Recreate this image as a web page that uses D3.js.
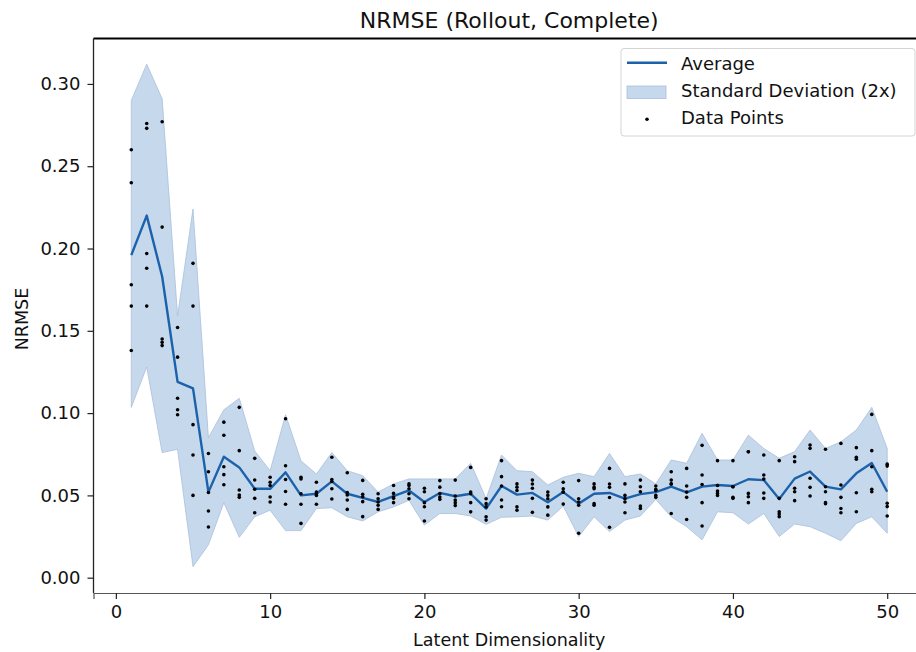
<!DOCTYPE html>
<html>
<head>
<meta charset="utf-8">
<script src="https://cdn.jsdelivr.net/npm/d3@7"></script>
<style>
  body { margin: 0; background: #fff; }
  svg { font-family: "DejaVu Sans", sans-serif; }
</style>
</head>
<body>
<svg id="chart-svg" width="916" height="652"></svg>
<script>
// latent dimensionality 1..50
const dims = d3.range(1, 51);

const average = [
  0.196, 0.220, 0.183, 0.119, 0.115, 0.052, 0.0735, 0.067, 0.054, 0.054,
  0.064, 0.050, 0.051, 0.0585, 0.051, 0.0485, 0.046, 0.0495, 0.053, 0.046,
  0.0515, 0.0495, 0.051, 0.042, 0.0557, 0.0505, 0.0515, 0.0458, 0.052, 0.045,
  0.051, 0.0515, 0.048, 0.0508, 0.052, 0.0553, 0.0518, 0.0553, 0.0563, 0.0557,
  0.0598, 0.0593, 0.0478, 0.0602, 0.0645, 0.0553, 0.0537, 0.0634, 0.0697, 0.0522
];

const upper = [
  0.290, 0.312, 0.291, 0.159, 0.224, 0.085, 0.102, 0.109, 0.077, 0.065,
  0.099, 0.071, 0.063, 0.076, 0.065, 0.062, 0.052, 0.057, 0.060, 0.060,
  0.060, 0.060, 0.0695, 0.048, 0.0745, 0.065, 0.0644, 0.0563, 0.061, 0.0634,
  0.0614, 0.0755, 0.0614, 0.063, 0.057, 0.0715, 0.0695, 0.0877, 0.0715, 0.0715,
  0.0866, 0.0785, 0.0725, 0.0766, 0.0897, 0.0785, 0.0826, 0.0897, 0.1035, 0.0785
];

const lower = [
  0.1035, 0.128, 0.076, 0.078, 0.0067, 0.020, 0.0456, 0.0245, 0.037, 0.041,
  0.0286, 0.0286, 0.042, 0.0425, 0.037, 0.0345, 0.040, 0.043, 0.047, 0.032,
  0.039, 0.039, 0.0375, 0.0324, 0.0367, 0.037, 0.0375, 0.035, 0.0435, 0.025,
  0.037, 0.028, 0.035, 0.0375, 0.0476, 0.037, 0.031, 0.023, 0.040, 0.0395,
  0.0326, 0.039, 0.025, 0.0326, 0.031, 0.027, 0.0225, 0.033, 0.037, 0.027
];

// five runs per dimensionality
const runs = [
  [0.260, 0.240, 0.178, 0.165, 0.138],
  [0.276, 0.273, 0.197, 0.188, 0.165],
  [0.277, 0.213, 0.145, 0.143, 0.141],
  [0.152, 0.134, 0.109, 0.102, 0.099],
  [0.191, 0.165, 0.093, 0.0745, 0.050],
  [0.0755, 0.0644, 0.0518, 0.0405, 0.0308],
  [0.0945, 0.0865, 0.0674, 0.0626, 0.0565],
  [0.1035, 0.0772, 0.0533, 0.0502, 0.0488],
  [0.0725, 0.0594, 0.0537, 0.0482, 0.0395],
  [0.061, 0.058, 0.056, 0.049, 0.046],
  [0.0966, 0.068, 0.0597, 0.0524, 0.0446],
  [0.061, 0.060, 0.051, 0.0446, 0.033],
  [0.058, 0.052, 0.051, 0.050, 0.0446],
  [0.0732, 0.0597, 0.0584, 0.054, 0.0478],
  [0.0638, 0.0518, 0.0502, 0.0472, 0.0415],
  [0.0591, 0.0507, 0.0492, 0.0462, 0.0371],
  [0.051, 0.048, 0.046, 0.044, 0.0415],
  [0.056, 0.0512, 0.049, 0.0482, 0.0456],
  [0.057, 0.056, 0.054, 0.051, 0.048],
  [0.0543, 0.0522, 0.0456, 0.0431, 0.0344],
  [0.059, 0.055, 0.051, 0.049, 0.0476],
  [0.0593, 0.0496, 0.0472, 0.0456, 0.0438],
  [0.067, 0.052, 0.051, 0.0456, 0.040],
  [0.048, 0.045, 0.043, 0.037, 0.035],
  [0.0711, 0.0614, 0.0557, 0.0472, 0.0431],
  [0.057, 0.055, 0.053, 0.043, 0.041],
  [0.0593, 0.0569, 0.0543, 0.0482, 0.0397],
  [0.052, 0.050, 0.048, 0.043, 0.038],
  [0.058, 0.054, 0.052, 0.052, 0.0447],
  [0.059, 0.048, 0.046, 0.044, 0.027],
  [0.057, 0.055, 0.054, 0.045, 0.044],
  [0.0664, 0.0569, 0.0549, 0.0487, 0.0306],
  [0.057, 0.050, 0.048, 0.046, 0.0395],
  [0.0593, 0.0553, 0.0522, 0.0436, 0.0421],
  [0.0557, 0.0537, 0.053, 0.050, 0.0488],
  [0.0644, 0.0593, 0.0569, 0.057, 0.039],
  [0.0664, 0.0557, 0.052, 0.0488, 0.0354],
  [0.0804, 0.0624, 0.0566, 0.0456, 0.0314],
  [0.0711, 0.056, 0.0527, 0.0512, 0.050],
  [0.0711, 0.0553, 0.0553, 0.0482, 0.0488],
  [0.0765, 0.0765, 0.0512, 0.0492, 0.0456],
  [0.0745, 0.0624, 0.060, 0.0482, 0.0515],
  [0.0711, 0.0482, 0.0401, 0.0387, 0.0371],
  [0.0735, 0.0705, 0.0543, 0.0522, 0.0468],
  [0.0806, 0.0786, 0.0604, 0.0549, 0.0496],
  [0.078, 0.0553, 0.0522, 0.0456, 0.045],
  [0.0816, 0.0563, 0.0488, 0.0395, 0.042],
  [0.079, 0.0732, 0.072, 0.0516, 0.0401],
  [0.0992, 0.0772, 0.0674, 0.0537, 0.0522],
  [0.069, 0.0678, 0.0452, 0.0432, 0.0375]
];

const xTicks = [0, 10, 20, 30, 40, 50];
const yTicks = [0.00, 0.05, 0.10, 0.15, 0.20, 0.25, 0.30];
const legendLabels = ["Average", "Standard Deviation (2x)", "Data Points"];

const lineColor = "#1c62ab";
const bandColor = "#c6d8ec";
const bandEdge = "#a8bfdc";

const svg = d3.select("#chart-svg");
const plot = { left: 93.5, right: 925, top: 38.5, bottom: 593 };

const x = d3.scaleLinear().domain([-1.45, 52.45]).range([plot.left, plot.right]);
const y = d3.scaleLinear().domain([-0.0093, 0.3276]).range([plot.bottom, plot.top]);

const rows = dims.map((d, i) => ({ dim: d, avg: average[i], lo: lower[i], hi: upper[i] }));
const points = [];
runs.forEach((vals, i) => vals.forEach(v => points.push({ dim: dims[i], v: v })));

// std band
const band = d3.area()
  .x(d => x(d.dim))
  .y0(d => y(d.lo))
  .y1(d => y(d.hi));

svg.append("path")
  .datum(rows)
  .attr("d", band)
  .attr("fill", bandColor)
  .attr("stroke", bandEdge)
  .attr("stroke-width", 0.8);

// average line
const line = d3.line()
  .x(d => x(d.dim))
  .y(d => y(d.avg));

svg.append("path")
  .datum(rows)
  .attr("d", line)
  .attr("fill", "none")
  .attr("stroke", lineColor)
  .attr("stroke-width", 2.4)
  .attr("stroke-linejoin", "round");

// data points
svg.append("g")
  .selectAll("circle")
  .data(points)
  .join("circle")
  .attr("cx", d => x(d.dim))
  .attr("cy", d => y(d.v))
  .attr("r", 1.8)
  .attr("fill", "#000");

// spines
svg.append("line")
  .attr("x1", plot.left).attr("x2", plot.right)
  .attr("y1", plot.top).attr("y2", plot.top)
  .attr("stroke", "#000").attr("stroke-width", 2);
svg.append("line")
  .attr("x1", plot.left).attr("x2", plot.left)
  .attr("y1", plot.top).attr("y2", plot.bottom)
  .attr("stroke", "#222").attr("stroke-width", 1.3);

// axes
const xAxis = svg.append("g")
  .attr("transform", `translate(0, ${plot.bottom})`)
  .call(d3.axisBottom(x).tickValues(xTicks).tickFormat(d3.format("d")).tickSize(6).tickPadding(6));
xAxis.select(".domain").attr("stroke", "#555").attr("stroke-width", 1.2);

const yAxis = svg.append("g")
  .attr("transform", `translate(${plot.left}, 0)`)
  .call(d3.axisLeft(y).tickValues(yTicks).tickFormat(d3.format(".2f")).tickSize(6).tickPadding(7));
yAxis.select(".domain").remove();

svg.selectAll(".tick text")
  .attr("font-family", "DejaVu Sans")
  .attr("font-size", 18)
  .attr("fill", "#111");
svg.selectAll(".tick line").attr("stroke", "#222").attr("stroke-width", 1.2);

// title and axis labels
svg.append("text")
  .attr("x", (plot.left + plot.right) / 2)
  .attr("y", 27.5)
  .attr("text-anchor", "middle")
  .attr("font-size", 22)
  .attr("fill", "#111")
  .text("NRMSE (Rollout, Complete)");

svg.append("text")
  .attr("x", (plot.left + plot.right) / 2)
  .attr("y", 645.5)
  .attr("text-anchor", "middle")
  .attr("font-size", 17.5)
  .attr("fill", "#111")
  .text("Latent Dimensionality");

svg.append("text")
  .attr("transform", "translate(27.5, 319) rotate(-90)")
  .attr("text-anchor", "middle")
  .attr("font-size", 17.5)
  .attr("fill", "#111")
  .text("NRMSE");

// legend
const legend = svg.append("g").attr("transform", "translate(621, 48.5)");
legend.append("rect")
  .attr("width", 294).attr("height", 87.5)
  .attr("rx", 3)
  .attr("fill", "#fff").attr("fill-opacity", 0.85)
  .attr("stroke", "#d4d4d4");

legend.append("line")
  .attr("x1", 6).attr("x2", 46).attr("y1", 14.3).attr("y2", 14.3)
  .attr("stroke", lineColor).attr("stroke-width", 2.4);
legend.append("rect")
  .attr("x", 6).attr("y", 37.5).attr("width", 39).attr("height", 12.5)
  .attr("fill", bandColor).attr("stroke", bandEdge).attr("stroke-width", 0.8);
legend.append("circle")
  .attr("cx", 26).attr("cy", 70.8).attr("r", 1.8).attr("fill", "#000");

legendLabels.forEach((label, i) => {
  legend.append("text")
    .attr("x", 60)
    .attr("y", 21.5 + i * 27)
    .attr("font-size", 18)
    .attr("fill", "#111")
    .text(label);
});
</script>
</body>
</html>
